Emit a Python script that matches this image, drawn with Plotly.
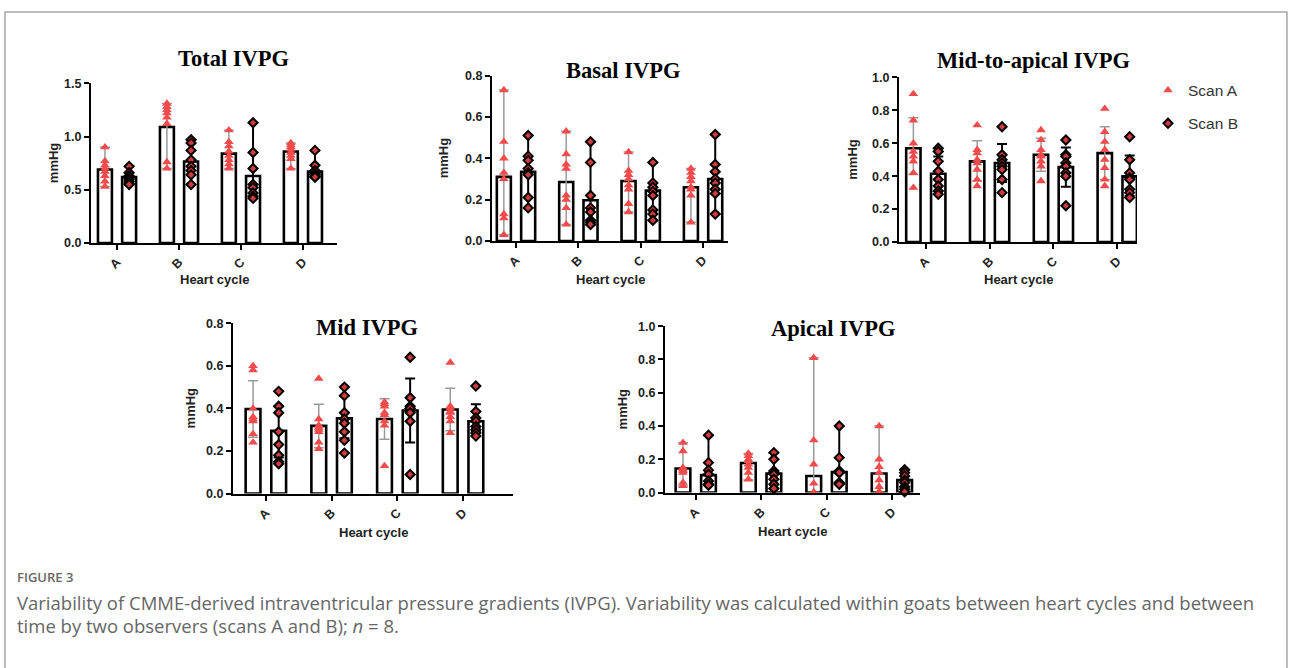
import plotly.graph_objects as go

W, H = 1290, 668
categories = ["A", "B", "C", "D"]

# ---------------- data ----------------
total_mean_a = [0.69, 1.09, 0.84, 0.86]
total_mean_b = [0.62, 0.765, 0.63, 0.67]
total_lo_a = [0.53, 0.70, 0.70, 0.70]
total_hi_a = [0.90, 1.31, 1.06, 0.94]
total_lo_b = [0.55, 0.55, 0.42, 0.62]
total_hi_b = [0.72, 0.97, 1.13, 0.87]
total_pts_a = [[0.90, 0.77, 0.73, 0.70, 0.67, 0.63, 0.58, 0.53],
               [1.31, 1.28, 1.25, 1.22, 1.18, 1.12, 0.76, 0.70],
               [1.06, 0.95, 0.91, 0.86, 0.82, 0.78, 0.74, 0.70],
               [0.94, 0.92, 0.90, 0.88, 0.85, 0.82, 0.79, 0.70]]
total_pts_b = [[0.72, 0.66, 0.63, 0.62, 0.60, 0.58, 0.56, 0.55],
               [0.97, 0.94, 0.87, 0.78, 0.72, 0.68, 0.64, 0.55],
               [1.13, 0.85, 0.70, 0.55, 0.52, 0.47, 0.44, 0.42],
               [0.87, 0.73, 0.68, 0.65, 0.64, 0.63, 0.62, 0.62]]

basal_mean_a = [0.31, 0.285, 0.29, 0.26]
basal_mean_b = [0.335, 0.197, 0.244, 0.30]
basal_lo_a = [0.03, 0.08, 0.14, 0.09]
basal_hi_a = [0.73, 0.53, 0.43, 0.35]
basal_lo_b = [0.16, 0.08, 0.10, 0.13]
basal_hi_b = [0.51, 0.48, 0.38, 0.515]
basal_pts_a = [[0.73, 0.48, 0.40, 0.33, 0.30, 0.13, 0.11, 0.03],
               [0.53, 0.42, 0.37, 0.35, 0.22, 0.20, 0.16, 0.08],
               [0.43, 0.34, 0.32, 0.30, 0.27, 0.25, 0.18, 0.14],
               [0.35, 0.33, 0.31, 0.29, 0.26, 0.25, 0.22, 0.09]]
basal_pts_b = [[0.51, 0.41, 0.39, 0.35, 0.33, 0.32, 0.21, 0.16],
               [0.48, 0.38, 0.22, 0.16, 0.14, 0.10, 0.09, 0.08],
               [0.38, 0.28, 0.26, 0.24, 0.22, 0.15, 0.13, 0.10],
               [0.515, 0.37, 0.335, 0.30, 0.28, 0.25, 0.23, 0.13]]

m2a_mean_a = [0.57, 0.49, 0.53, 0.54]
m2a_mean_b = [0.415, 0.48, 0.455, 0.40]
m2a_lo_a = [0.41, 0.37, 0.43, 0.38]
m2a_hi_a = [0.755, 0.615, 0.63, 0.70]
m2a_lo_b = [0.31, 0.365, 0.335, 0.28]
m2a_hi_b = [0.52, 0.595, 0.575, 0.525]
m2a_pts_a = [[0.90, 0.74, 0.60, 0.55, 0.52, 0.49, 0.42, 0.33],
             [0.71, 0.56, 0.54, 0.50, 0.48, 0.44, 0.38, 0.34],
             [0.68, 0.62, 0.56, 0.53, 0.52, 0.49, 0.46, 0.37],
             [0.81, 0.67, 0.61, 0.56, 0.50, 0.45, 0.38, 0.34]]
m2a_pts_b = [[0.57, 0.55, 0.49, 0.43, 0.38, 0.34, 0.31, 0.29],
             [0.70, 0.53, 0.50, 0.48, 0.46, 0.44, 0.38, 0.30],
             [0.62, 0.53, 0.52, 0.48, 0.46, 0.42, 0.40, 0.22],
             [0.64, 0.50, 0.42, 0.39, 0.38, 0.32, 0.30, 0.27]]

mid_mean_a = [0.397, 0.318, 0.35, 0.395]
mid_mean_b = [0.295, 0.354, 0.39, 0.34]
mid_lo_a = [0.265, 0.215, 0.255, 0.295]
mid_hi_a = [0.53, 0.42, 0.445, 0.495]
mid_lo_b = [0.17, 0.26, 0.24, 0.29]
mid_hi_b = [0.41, 0.46, 0.54, 0.42]
mid_pts_a = [[0.60, 0.58, 0.40, 0.36, 0.35, 0.34, 0.28, 0.24],
             [0.54, 0.35, 0.32, 0.31, 0.30, 0.29, 0.24, 0.21],
             [0.43, 0.42, 0.41, 0.38, 0.37, 0.34, 0.32, 0.13],
             [0.615, 0.41, 0.40, 0.385, 0.38, 0.36, 0.34, 0.285]]
mid_pts_b = [[0.48, 0.41, 0.38, 0.29, 0.23, 0.18, 0.15, 0.14],
             [0.50, 0.46, 0.38, 0.35, 0.33, 0.29, 0.25, 0.19],
             [0.64, 0.45, 0.41, 0.40, 0.40, 0.38, 0.34, 0.09],
             [0.505, 0.385, 0.355, 0.34, 0.315, 0.30, 0.285, 0.27]]

apical_mean_a = [0.145, 0.178, 0.10, 0.115]
apical_mean_b = [0.105, 0.114, 0.123, 0.075]
apical_lo_a = [0.04, 0.075, 0.0, 0.0]
apical_hi_a = [0.30, 0.235, 0.81, 0.40]
apical_lo_b = [0.045, 0.025, 0.05, 0.0]
apical_hi_b = [0.345, 0.24, 0.40, 0.137]
apical_pts_a = [[0.30, 0.25, 0.15, 0.14, 0.13, 0.12, 0.06, 0.04],
                [0.235, 0.22, 0.20, 0.19, 0.17, 0.15, 0.12, 0.08],
                [0.81, 0.315, 0.17, 0.055, 0.0, 0.0, 0.0, 0.0],
                [0.40, 0.20, 0.155, 0.12, 0.075, 0.035, 0.005, 0.005]]
apical_pts_b = [[0.345, 0.18, 0.135, 0.11, 0.07, 0.05, 0.045, 0.045],
                [0.24, 0.20, 0.13, 0.12, 0.11, 0.08, 0.05, 0.025],
                [0.40, 0.21, 0.13, 0.12, 0.12, 0.06, 0.055, 0.05],
                [0.137, 0.12, 0.10, 0.075, 0.06, 0.035, 0.02, 0.005]]

panel_titles = ["Total IVPG", "Basal IVPG", "Mid-to-apical IVPG", "Mid IVPG", "Apical IVPG"]
y_max = [1.5, 0.8, 1.0, 0.8, 1.0]
y_step = [0.5, 0.2, 0.2, 0.2, 0.2]

panel_data = [
    (total_mean_a, total_mean_b, total_lo_a, total_hi_a, total_lo_b, total_hi_b, total_pts_a, total_pts_b),
    (basal_mean_a, basal_mean_b, basal_lo_a, basal_hi_a, basal_lo_b, basal_hi_b, basal_pts_a, basal_pts_b),
    (m2a_mean_a, m2a_mean_b, m2a_lo_a, m2a_hi_a, m2a_lo_b, m2a_hi_b, m2a_pts_a, m2a_pts_b),
    (mid_mean_a, mid_mean_b, mid_lo_a, mid_hi_a, mid_lo_b, mid_hi_b, mid_pts_a, mid_pts_b),
    (apical_mean_a, apical_mean_b, apical_lo_a, apical_hi_a, apical_lo_b, apical_hi_b, apical_pts_a, apical_pts_b),
]

# ---------------- layout geometry (pixels) ----------------
def px(x):
    return x / W

def py(y):
    return 1 - y / H

# (x_left, x_right, y_top, y_bottom) of each plot area in pixels
boxes = [(91, 337, 78, 241), (492, 728, 70, 239), (899, 1137, 72, 240),
         (233, 513, 323, 497), (665, 920, 326, 496)]
x_ranges = [[-0.42, 3.55], [-0.385, 3.40], [-0.42, 3.31], [-0.50, 3.76], [-0.47, 3.43]]
title_pos = [(233, 53), (623, 65), (1033, 55), (367, 327), (833, 328)]
ylab_x = [53, 443, 853, 190, 622]
xlab_y = [278, 278, 278, 537, 536]

OFF = 0.195
BW = 0.225
RED = "#f24b4b"
DIAMOND_FILL = "#cf3b3b"
FONT = "Liberation Sans"

fig = go.Figure()
annotations = []
layout_axes = {}

for i in range(5):
    mean_a, mean_b, lo_a, hi_a, lo_b, hi_b, pts_a, pts_b = panel_data[i]
    n = i + 1
    xa_name = "x" if n == 1 else f"x{n}"
    ya_name = "y" if n == 1 else f"y{n}"
    idx = list(range(len(categories)))
    xs_a = [k - OFF for k in idx]
    xs_b = [k + OFF for k in idx]

    fig.add_trace(go.Bar(
        x=xs_a, y=mean_a, width=BW, xaxis=xa_name, yaxis=ya_name,
        marker=dict(color="white", line=dict(color="black", width=2.6)),
        error_y=dict(type="data", symmetric=False,
                     array=[h - m for h, m in zip(hi_a, mean_a)],
                     arrayminus=[m - l for m, l in zip(mean_a, lo_a)],
                     color="#9a9a9a", thickness=1.5, width=5),
        showlegend=False, hoverinfo="skip"))
    fig.add_trace(go.Bar(
        x=xs_b, y=mean_b, width=BW, xaxis=xa_name, yaxis=ya_name,
        marker=dict(color="white", line=dict(color="black", width=2.6)),
        error_y=dict(type="data", symmetric=False,
                     array=[h - m for h, m in zip(hi_b, mean_b)],
                     arrayminus=[m - l for m, l in zip(mean_b, lo_b)],
                     color="black", thickness=2, width=5),
        showlegend=False, hoverinfo="skip"))

    px_a, py_a, px_b, py_b = [], [], [], []
    for k in idx:
        for v in pts_a[k]:
            px_a.append(xs_a[k]); py_a.append(v)
        for v in pts_b[k]:
            px_b.append(xs_b[k]); py_b.append(v)

    fig.add_trace(go.Scatter(
        x=px_a, y=py_a, mode="markers", xaxis=xa_name, yaxis=ya_name,
        name="Scan A", legendgroup="A", showlegend=(i == 0), cliponaxis=False,
        marker=dict(symbol="triangle-up", size=8.5, color=RED, line=dict(width=0))))
    fig.add_trace(go.Scatter(
        x=px_b, y=py_b, mode="markers", xaxis=xa_name, yaxis=ya_name,
        name="Scan B", legendgroup="B", showlegend=(i == 0), cliponaxis=False,
        marker=dict(symbol="diamond", size=7, color=DIAMOND_FILL,
                    line=dict(color="black", width=2))))

    x0, x1, y0, y1 = boxes[i]
    key_x = "xaxis" if n == 1 else f"xaxis{n}"
    key_y = "yaxis" if n == 1 else f"yaxis{n}"
    layout_axes[key_x] = dict(
        domain=[px(x0), px(x1)], anchor=ya_name, range=x_ranges[i],
        tickvals=idx, ticktext=categories, tickangle=-45,
        showline=True, linecolor="black", linewidth=2,
        ticks="outside", ticklen=5, tickwidth=2, tickcolor="black",
        showgrid=False, zeroline=False,
        tickfont=dict(family=FONT, size=12.5, color="#222", weight="bold"))
    layout_axes[key_y] = dict(
        domain=[py(y1), py(y0)], anchor=xa_name, range=[0, y_max[i]],
        dtick=y_step[i], tick0=0, tickformat=".1f",
        showline=True, linecolor="black", linewidth=2,
        ticks="outside", ticklen=5, tickwidth=2, tickcolor="black",
        showgrid=False, zeroline=False,
        tickfont=dict(family=FONT, size=12.5, color="#222", weight="bold"))

    tx, ty = title_pos[i]
    annotations.append(dict(
        text=panel_titles[i], x=px(tx), y=py(ty), xref="paper", yref="paper",
        showarrow=False, xanchor="center", yanchor="middle",
        font=dict(family="Liberation Serif", size=22.5, color="black", weight="bold")))
    annotations.append(dict(
        text="mmHg", x=px(ylab_x[i]), y=py((y0 + y1) / 2), xref="paper", yref="paper",
        showarrow=False, textangle=-90, xanchor="center", yanchor="middle",
        font=dict(family=FONT, size=13, color="#222", weight="bold")))
    annotations.append(dict(
        text="Heart cycle", x=px((x0 + x1) / 2), y=py(xlab_y[i]), xref="paper", yref="paper",
        showarrow=False, xanchor="center", yanchor="middle",
        font=dict(family=FONT, size=13, color="#222", weight="bold")))

# caption
annotations.append(dict(
    text="FIGURE 3", x=px(15), y=py(582), xref="paper", yref="paper",
    showarrow=False, xanchor="left", yanchor="middle",
    font=dict(family="Open Sans", size=13, color="#666", weight=600)))
annotations.append(dict(
    text="Variability of CMME-derived intraventricular pressure gradients (IVPG). Variability was calculated within goats between heart cycles and between",
    x=px(15), y=py(608), xref="paper", yref="paper",
    showarrow=False, xanchor="left", yanchor="middle",
    font=dict(family="Open Sans", size=18.5, color="#666")))
annotations.append(dict(
    text="time by two observers (scans A and B); <i>n</i> = 8.",
    x=px(15), y=py(632), xref="paper", yref="paper",
    showarrow=False, xanchor="left", yanchor="middle",
    font=dict(family="Open Sans", size=18.5, color="#666")))

fig.update_layout(
    width=W, height=H, margin=dict(l=0, r=0, t=0, b=0),
    paper_bgcolor="white", plot_bgcolor="white",
    barmode="overlay",
    showlegend=True,
    legend=dict(x=px(1148), y=py(68), xanchor="left", yanchor="top",
                font=dict(family=FONT, size=15.5, color="#333"),
                bgcolor="rgba(0,0,0,0)", tracegroupgap=10, itemwidth=30),
    annotations=annotations,
    shapes=[dict(type="rect", xref="paper", yref="paper",
                 x0=px(5), x1=px(1287), y0=-0.2, y1=py(5),
                 line=dict(color="#a8a8a8", width=1.5), fillcolor="rgba(0,0,0,0)")],
    **layout_axes)

fig.write_html("out.html")
